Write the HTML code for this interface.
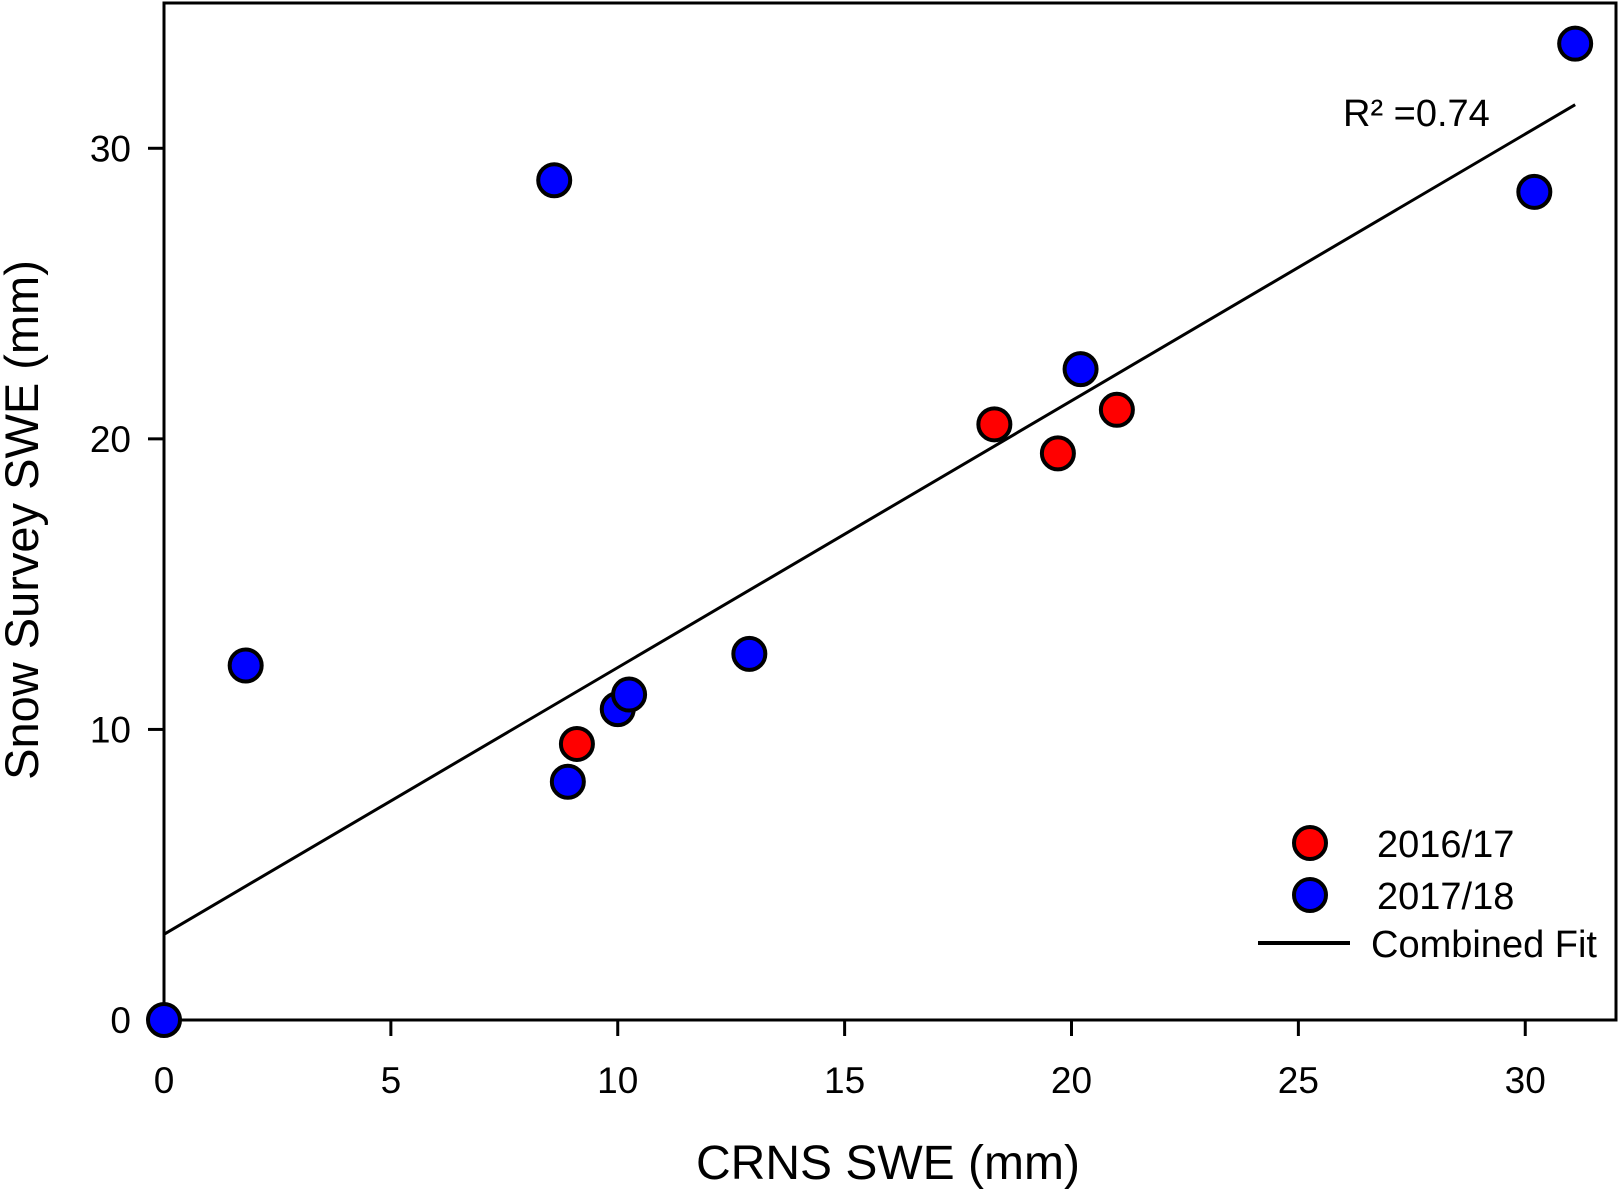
<!DOCTYPE html>
<html><head><meta charset="utf-8"><style>
html,body{margin:0;padding:0;background:#fff}
svg{display:block;font-family:"Liberation Sans",Arial,sans-serif}
</style></head><body>
<svg id="chart" width="1618" height="1189" viewBox="0 0 1618 1189">
<g id="plot"></g>
</svg>
<script>
const xTicks=[0,5,10,15,20,25,30];
const yTicks=[0,10,20,30];
const redX=[9.1,18.3,19.7,21.0];
const redY=[9.5,20.5,19.5,21.0];
const blueX=[0,1.8,8.6,8.9,10.0,10.25,12.9,20.2,30.2,31.1];
const blueY=[0,12.2,28.9,8.2,10.7,11.2,12.6,22.4,28.5,33.6];
const fitSlope=0.918;
const fitIntercept=2.95;
const fitRange=[0,31.1];

const L=164,R=1616,T=3,B=1020,XMAX=32,YMAX=35;
const sx=v=>L+(R-L)*v/XMAX;
const sy=v=>B-(B-T)*v/YMAX;
const NS="http://www.w3.org/2000/svg";
const g=document.getElementById('plot');
function mk(tag,attrs,parent){const e=document.createElementNS(NS,tag);for(const k in attrs)e.setAttribute(k,attrs[k]);(parent||g).appendChild(e);return e;}

let frame=mk('rect',{x:L,y:T,width:R-L,height:B-T,fill:'none',stroke:'#000','stroke-width':3});



xTicks.forEach(v=>{
  let t=mk('line',{x1:sx(v),x2:sx(v),y1:B,y2:B+16,stroke:'#000','stroke-width':3});
  
  
  let l=mk('text',{x:sx(v),y:B+73,'text-anchor':'middle','font-size':37});
  l.textContent=v;
  
  
});
yTicks.forEach(v=>{
  let t=mk('line',{x1:L-16,x2:L,y1:sy(v),y2:sy(v),stroke:'#000','stroke-width':3});
  
  
  let l=mk('text',{x:L-33,y:sy(v)+13,'text-anchor':'end','font-size':37});
  l.textContent=v;
  
  
});

let fit=mk('line',{x1:sx(fitRange[0]),y1:sy(fitIntercept+fitSlope*fitRange[0]),x2:sx(fitRange[1]),y2:sy(fitIntercept+fitSlope*fitRange[1]),stroke:'#000','stroke-width':3});



function pts(xs,ys,color,name){
  xs.forEach((x,i)=>{
    let c=mk('circle',{cx:sx(x),cy:sy(ys[i]),r:16,fill:color,stroke:'#000','stroke-width':4});
    
    
  });
}
pts(redX,redY,'#ff0000','point-2016-17');
pts(blueX,blueY,'#0000ff','point-2017-18');

let r2=mk('text',{x:1343,y:126,'font-size':38});
r2.textContent='R² =0.74';



let lg=mk('g',{});


let m1=mk('circle',{cx:1310,cy:843,r:16,fill:'#ff0000',stroke:'#000','stroke-width':4},lg);


let t1=mk('text',{x:1377,y:857,'font-size':38},lg);t1.textContent='2016/17';


let m2=mk('circle',{cx:1310,cy:895,r:16,fill:'#0000ff',stroke:'#000','stroke-width':4},lg);


let t2=mk('text',{x:1377,y:909,'font-size':38},lg);t2.textContent='2017/18';


let ll=mk('line',{x1:1258,x2:1350,y1:943,y2:943,stroke:'#000','stroke-width':4},lg);


let t3=mk('text',{x:1371,y:957,'font-size':38},lg);t3.textContent='Combined Fit';



let xt=mk('text',{x:888,y:1179,'text-anchor':'middle','font-size':48});
xt.textContent='CRNS SWE (mm)';


let yt=mk('text',{x:0,y:0,'text-anchor':'middle','font-size':47,transform:'translate(38,520) rotate(-90)'});
yt.textContent='Snow Survey SWE (mm)';


</script>
</body></html>
